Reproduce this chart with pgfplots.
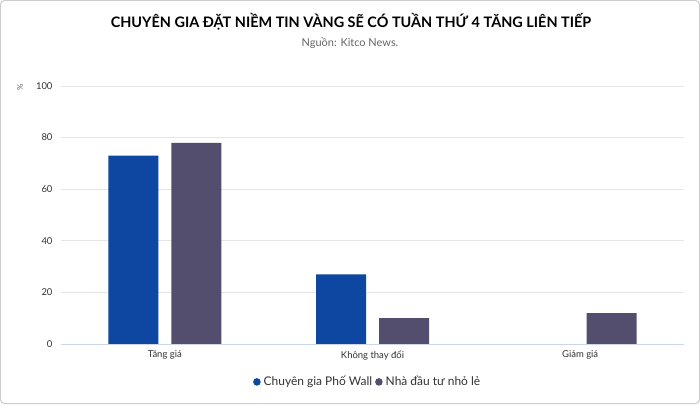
\documentclass[border=0pt]{standalone}
\usepackage{pgfplots}
\pgfplotsset{compat=1.18}
\usepackage{fontspec}
\setmainfont{Lato}
\definecolor{cblue}{HTML}{0D47A1}
\definecolor{cgrey}{HTML}{544E6E}
\definecolor{gridc}{HTML}{E6E6E6}
\definecolor{basec}{HTML}{CCD6EB}
\definecolor{txt}{HTML}{333333}
\definecolor{sub}{HTML}{666666}
\begin{document}
\begin{tikzpicture}[x=1bp,y=1bp]
\path[use as bounding box] (0,0) rectangle (700,404);
\draw[rounded corners=4bp, draw=black!20, fill=white, line width=1bp] (0.5,0.5) rectangle (699.5,403.5);
\node[font=\bfseries\fontsize{14.5}{16}\selectfont, text=black] at (351,382) {CHUYÊN GIA ĐẶT NIỀM TIN VÀNG SẼ CÓ TUẦN THỨ 4 TĂNG LIÊN TIẾP};
\node[font=\fontsize{11}{13}\selectfont, text=sub] at (350,361) {Nguồn: Kitco News.};
\node[font=\fontsize{8}{9}\selectfont, text=sub, rotate=90] at (20,317) {\%};
\begin{axis}[
  at={(61bp,60bp)}, anchor=south west,
  scale only axis, width=623bp, height=258bp,
  ybar=13bp, bar width=50bp,
  xmin=-0.5, xmax=2.5, ymin=0, ymax=100,
  xtick={0,1,2}, xticklabels={Tăng giá, Không thay đổi, Giảm giá},
  ytick={0,20,40,60,80,100},
  axis line style={draw=none},
  major tick length=0pt,
  ymajorgrids, grid style={gridc, line width=0.8bp},
  tick label style={font=\fontsize{9.5}{11}\selectfont, text=txt},
  /pgf/number format/assume math mode=true,
  yticklabel style={xshift=-5bp},
  xticklabel style={yshift=-3bp},
  legend style={at={(0.493,-0.147)}, anchor=center, draw=none, fill=none,
    legend columns=2, font=\fontsize{12}{14}\selectfont, text=txt,
    nodes={inner xsep=3bp},
    /tikz/every even column/.append style={column sep=0bp}},
  legend image code/.code={\fill[#1] (3bp,0) circle (3.8bp);},
  clip=false,
]
\addplot[fill=cblue, draw=none] coordinates {(0,73) (1,27) (2,0)};
\addplot[fill=cgrey, draw=none] coordinates {(0,78) (1,10) (2,12)};
\legend{Chuyên gia Phố Wall, Nhà đầu tư nhỏ lẻ}
\draw[basec, line width=0.8bp] (axis cs:-0.5,0) -- (axis cs:2.5,0);
\end{axis}
\end{tikzpicture}
\end{document}
